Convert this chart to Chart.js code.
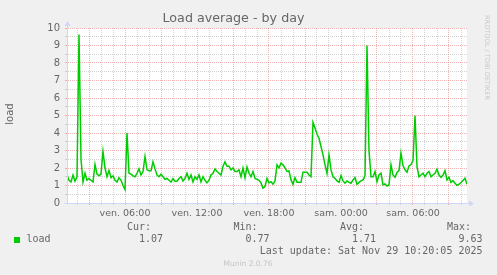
<!DOCTYPE html>
<html><head><meta charset="utf-8">
<script src="https://cdn.jsdelivr.net/npm/chart.js@4.4.1/dist/chart.umd.min.js"></script>
<style>html,body{margin:0;padding:0;background:#f0f0f0;overflow:hidden}</style>
</head><body>
<canvas id="c" width="497" height="275"></canvas>
<script>
// ---- data ----
const startHour = 1 + 10/60;   // ven. 01:10 (hours since ven. 00:00)
const stepHours = 10/60;       // one sample every 10 minutes
const endHour = 34.5;          // sam. 10:30
const load = [
 1.6,1.3,1.2,1.6,1.25,1.5,9.63,2.5,1.2,1.7,1.3,1.4,1.3,1.2,2.2,1.65,1.55,1.65,2.95,2.0,
 1.5,1.85,1.45,1.55,1.3,1.2,1.45,1.3,1.0,0.77,4.0,1.7,1.65,1.55,1.5,1.7,1.95,1.6,1.8,2.65,
 1.9,1.85,1.85,2.35,1.95,1.6,1.5,1.65,1.5,1.35,1.4,
 1.3,1.2,1.4,1.25,1.25,1.4,1.5,1.25,1.4,1.7,1.35,1.6,1.2,1.5,1.35,1.6,1.2,1.5,1.3,1.15,
 1.3,1.6,1.7,1.95,1.8,1.7,1.6,2.1,2.35,2.1,2.1,1.9,2.0,1.8,1.8,1.9,1.5,2.0,1.45,2.05,
 1.7,1.5,1.8,1.4,1.35,1.3,1.15,0.85,0.95,1.4,1.15,
 1.22,1.07,1.26,2.18,2.0,2.27,2.18,2.0,1.8,1.83,1.32,1.07,1.45,1.18,1.18,1.18,1.76,1.76,1.76,1.6,
 1.5,4.6,4.28,3.93,3.7,3.23,2.75,2.18,1.7,2.75,1.89,1.5,1.41,1.26,1.18,1.57,1.26,1.13,1.26,1.18,
 1.13,1.32,1.45,1.07,1.18,1.26,1.32,1.57,9.0,3.0,1.5,
 1.5,1.8,1.22,1.6,1.7,1.03,1.09,0.97,1.03,2.18,1.6,1.47,1.74,1.85,2.85,2.14,1.9,1.76,2.12,2.2,
 2.43,5.0,2.08,1.5,1.6,1.7,1.5,1.7,1.8,1.5,1.6,1.7,1.93,1.6,1.47,1.6,1.85,1.32,1.47,1.17,
 1.28,1.13,1.01,1.07,1.17,1.28,1.41,1.07
];
const yTickValues = [0,1,2,3,4,5,6,7,8,9,10];
const xTickHours = [6,12,18,24,30];
const xTickLabels = ['ven. 06:00','ven. 12:00','ven. 18:00','sam. 00:00','sam. 06:00'];
const seriesName = 'load';
const statLabels = ['Cur:','Min:','Avg:','Max:'];
const statValues = ['1.07','0.77','1.71','9.63'];
const titleText = 'Load average - by day';
const yTitle = 'load';
const lastUpdate = 'Last update: Sat Nov 29 10:20:05 2025';
const footer = 'Munin 2.0.76';
const watermark = 'RRDTOOL / TOBI OETIKER';

// ---- style ----
const FONT = '#666666';
const AXIS = '#CFD6F8';
const MGRID = 'rgba(222,79,79,0.42)';
const GRID = 'rgba(150,150,150,0.42)';
const LINE = '#00CC00';
const SANS = '"DejaVu Sans", sans-serif';
const MONO = '"DejaVu Sans Mono", monospace';

const isInt = v => Math.abs(v - Math.round(v)) < 1e-6;
const xGridColor = ctx => (ctx.tick && isInt(ctx.tick.value / 3)) ? MGRID : GRID;
const yGridColor = ctx => (ctx.tick && isInt(ctx.tick.value)) ? MGRID : GRID;

const muninPlugin = {
  id: 'munin',
  beforeDraw(chart) {
    const {ctx, chartArea: a} = chart;
    ctx.save();
    ctx.fillStyle = '#F0F0F0';
    ctx.fillRect(0, 0, chart.width, chart.height);
    ctx.fillStyle = '#FFFFFF';
    ctx.fillRect(a.left, a.top, a.right - a.left, a.bottom - a.top);
    ctx.restore();
  },
  afterDraw(chart) {
    const {ctx, chartArea: a} = chart;
    const xs = chart.scales.x, ys = chart.scales.y;
    const x0 = Math.round(xs.left) + 0.5;
    const yb = Math.round(ys.bottom) + 0.5;
    ctx.save();
    // axis extensions and arrows
    ctx.strokeStyle = AXIS; ctx.fillStyle = AXIS; ctx.lineWidth = 1;
    ctx.beginPath();
    ctx.moveTo(x0 - 3, yb); ctx.lineTo(a.right + 2, yb);
    ctx.moveTo(x0, yb); ctx.lineTo(x0, a.top - 3);
    ctx.stroke();
    ctx.beginPath();
    ctx.moveTo(a.right + 2, yb - 3); ctx.lineTo(a.right + 7, yb); ctx.lineTo(a.right + 2, yb + 3); ctx.closePath(); ctx.fill();
    ctx.beginPath();
    ctx.moveTo(x0 - 3, a.top - 2); ctx.lineTo(x0, a.top - 7); ctx.lineTo(x0 + 3, a.top - 2); ctx.closePath(); ctx.fill();

    // y axis title
    ctx.fillStyle = FONT;
    ctx.font = '10px ' + SANS;
    ctx.textAlign = 'center'; ctx.textBaseline = 'middle';
    ctx.save(); ctx.translate(10.5, 114); ctx.rotate(-Math.PI/2); ctx.fillText(yTitle, 0, 0); ctx.restore();

    // watermark
    ctx.save();
    ctx.fillStyle = '#c8c8c8';
    ctx.font = '6.6px ' + SANS;
    ctx.textAlign = 'left'; ctx.textBaseline = 'middle';
    ctx.translate(487, 15); ctx.rotate(Math.PI/2); ctx.fillText(watermark, 0, 0);
    ctx.restore();

    // legend
    ctx.font = '10px ' + MONO;
    ctx.fillStyle = FONT;
    ctx.textBaseline = 'middle';
    const headLeft = [127, 233.5, 340, 447];
    const valRight = [163, 269.5, 376, 482.5];
    ctx.textAlign = 'left';
    statLabels.forEach((t, i) => ctx.fillText(t, headLeft[i], 227));
    ctx.fillText(seriesName, 26.5, 239.5);
    ctx.textAlign = 'right';
    statValues.forEach((t, i) => ctx.fillText(t, valRight[i], 239.5));
    ctx.fillText(lastUpdate, 482.5, 251.5);
    ctx.fillStyle = LINE;
    ctx.fillRect(14, 237, 6, 6);

    ctx.fillStyle = '#c4c4c4';
    ctx.font = '7.5px ' + SANS;
    ctx.textAlign = 'center';
    ctx.fillText(footer, 248, 264);
    ctx.restore();
  }
};

new Chart(document.getElementById('c'), {
  type: 'line',
  data: {
    datasets: [{
      label: seriesName,
      data: load.map((v, i) => ({x: startHour + i * stepHours, y: v})),
      borderColor: LINE,
      borderWidth: 1.5,
      pointRadius: 0,
      tension: 0,
      fill: false
    }]
  },
  options: {
    responsive: false,
    animation: false,
    devicePixelRatio: 1,
    layout: {padding: {left: 0, right: 30, top: 0, bottom: 0}},
    plugins: {
      legend: {display: false},
      tooltip: {enabled: false},
      title: {
        display: true, text: titleText, color: FONT,
        font: {family: SANS, size: 12.7, weight: 'normal'},
        padding: {top: 11.4, bottom: 1.36}
      }
    },
    scales: {
      x: {
        type: 'linear', min: startHour, max: endHour,
        afterFit(s) { s.height = 72; },
        ticks: {
          stepSize: 1, autoSkip: false, maxRotation: 0, minRotation: 0,
          includeBounds: false, maxTicksLimit: 1000, padding: 3,
          color: FONT, font: {family: SANS, size: 9.5},
          callback(v) {
            if (!isInt(v)) return '';
            const k = xTickHours.indexOf(Math.round(v));
            return k >= 0 ? xTickLabels[k] : '';
          }
        },
        grid: {color: xGridColor, tickColor: xGridColor, lineWidth: 1, drawTicks: true, tickLength: 2, tickBorderDash: []},
        border: {display: true, color: AXIS, width: 1, dash: [1, 1]}
      },
      y: {
        min: 0, max: 10,
        afterFit(s) { s.width = 67; },
        ticks: {
          stepSize: 0.5, autoSkip: false, includeBounds: false, maxTicksLimit: 1000, padding: 5,
          color: FONT, font: {family: SANS, size: 10},
          callback(v) { return (isInt(v) && yTickValues.includes(Math.round(v))) ? String(Math.round(v)) : ''; }
        },
        grid: {color: yGridColor, tickColor: yGridColor, lineWidth: 1, drawTicks: true, tickLength: 2, tickBorderDash: []},
        border: {display: true, color: AXIS, width: 1, dash: [1, 1]}
      }
    }
  },
  plugins: [muninPlugin]
});
</script>
</body></html>
